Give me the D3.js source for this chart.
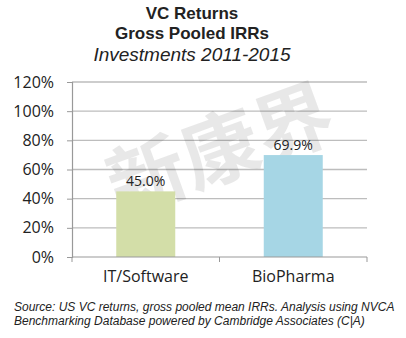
<!DOCTYPE html>
<html>
<head>
<meta charset="utf-8">
<script src="https://cdn.jsdelivr.net/npm/d3@7"></script>
<style>
  html, body { margin: 0; padding: 0; background: #fff; }
  svg { display: block; }
  text { font-family: "Open Sans", Lato, sans-serif; fill: #222; }
</style>
</head>
<body>
<svg id="chart" width="406" height="338"></svg>
<script>
// Gross pooled IRRs by sector, investments 2011-2015
const categories = ["IT/Software", "BioPharma"];
const irrValues = [0.450, 0.699];
const barColors = ["#d3dea8", "#a6d6e5"];
const yTicks = [0, 0.2, 0.4, 0.6, 0.8, 1.0, 1.2];
const titleLines = ["VC Returns", "Gross Pooled IRRs"];
const subtitle = "Investments 2011-2015";
const sourceLines = [
  "Source: US VC returns, gross pooled mean IRRs.  Analysis using NVCA",
  "Benchmarking Database powered by Cambridge Associates (C|A)"
];
const watermark = "新康界";

const svg = d3.select("#chart");
const plot = { left: 72, right: 367, top: 82, bottom: 257 };

const x = d3.scaleBand().domain(categories).range([plot.left, plot.right]).paddingInner(0.6).paddingOuter(0.3);
const xBounds = d3.scaleBand().domain(categories).range([plot.left, plot.right]);
const y = d3.scaleLinear().domain([0, 1.2]).range([plot.bottom, plot.top]);

// Titles
const titleFont = "'Liberation Sans', Arial, sans-serif";
svg.selectAll("text.title").data(titleLines).join("text")
  .attr("class", "title")
  .attr("x", 192).attr("y", (d, i) => 19 + i * 20)
  .attr("text-anchor", "middle")
  .style("font-family", titleFont)
  .style("font-size", "17px").style("font-weight", "bold")
  .text(d => d);
svg.append("text")
  .attr("x", 192).attr("y", 61)
  .attr("text-anchor", "middle")
  .style("font-family", titleFont)
  .style("font-size", "19px").style("font-style", "italic")
  .text(subtitle);

// Gridlines
svg.append("g").selectAll("line").data(yTicks.slice(1)).join("line")
  .attr("x1", plot.left).attr("x2", plot.right)
  .attr("y1", d => y(d)).attr("y2", d => y(d))
  .attr("stroke", "#bdbdbd").attr("stroke-width", 1.3);

// Watermark
svg.append("text")
  .attr("transform", "translate(230,176) rotate(-20)")
  .attr("text-anchor", "middle")
  .style("font-family", "'Noto Sans CJK SC', sans-serif")
  .style("font-weight", "bold")
  .style("font-size", "78px")
  .style("fill", "#000")
  .style("fill-opacity", 0.09)
  .text(watermark);

// Bars
svg.append("g").selectAll("rect").data(categories).join("rect")
  .attr("x", d => x(d)).attr("width", x.bandwidth())
  .attr("y", (d, i) => y(irrValues[i]))
  .attr("height", (d, i) => y(0) - y(irrValues[i]))
  .attr("fill", (d, i) => barColors[i]);

// Value labels
svg.append("g").selectAll("text").data(categories).join("text")
  .attr("x", d => x(d) + x.bandwidth() / 2)
  .attr("y", (d, i) => y(irrValues[i]) - 5)
  .attr("text-anchor", "middle")
  .style("font-size", "14px")
  .text((d, i) => d3.format(".1%")(irrValues[i]));

// Y axis
const yAxis = svg.append("g")
  .attr("transform", `translate(${plot.left},0)`)
  .call(d3.axisLeft(y).tickValues(yTicks).tickFormat(d3.format(".0%")).tickSize(5).tickPadding(13));
yAxis.select(".domain").attr("stroke", "#999").attr("stroke-width", 1.2);
yAxis.selectAll(".tick line").attr("stroke", "#999");
yAxis.selectAll(".tick text").style("font-size", "16px").style("fill", "#222");

// X axis with tick marks at category boundaries
const xAxis = svg.append("g").attr("transform", `translate(0,${plot.bottom})`);
xAxis.append("line").attr("x1", plot.left).attr("x2", plot.right)
  .attr("stroke", "#999").attr("stroke-width", 1.2);
const bounds = categories.map(c => xBounds(c)).concat([plot.right]);
xAxis.selectAll("line.tk").data(bounds).join("line").attr("class", "tk")
  .attr("x1", d => d).attr("x2", d => d).attr("y1", 0).attr("y2", 5)
  .attr("stroke", "#999");
xAxis.selectAll("text").data(categories).join("text")
  .attr("x", d => xBounds(d) + xBounds.bandwidth() / 2)
  .attr("y", 25)
  .attr("text-anchor", "middle")
  .style("font-size", "16px")
  .text(d => d);

// Source note
svg.selectAll("text.src").data(sourceLines).join("text")
  .attr("class", "src")
  .attr("x", 14).attr("y", (d, i) => 311 + i * 14)
  .style("font-family", "'Liberation Sans', Arial, sans-serif")
  .style("font-size", "12px").style("font-style", "italic")
  .text(d => d);
</script>
</body>
</html>
